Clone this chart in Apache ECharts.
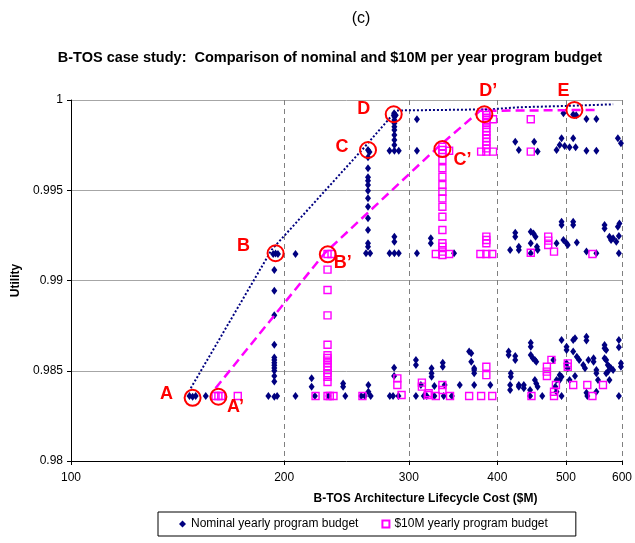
<!DOCTYPE html>
<html><head><meta charset="utf-8">
<script src="https://cdn.jsdelivr.net/npm/echarts@6/dist/echarts.min.js"></script>
<style>html,body{margin:0;padding:0;background:#fff}#c{width:635px;height:543px}</style>
</head><body><div id="c"></div>
<script>
const FONT = '"Liberation Sans", Arial, sans-serif';
const xTicks = [100, 200, 300, 400, 500, 600];

const nominalPoints = [
  [147,0.9836],[148.5,0.98356],[150,0.9836],[155,0.9836],[190,0.9836],[193.7,0.98356],[195.5,0.9836],[207.5,0.9836],[221,0.9836],[231,0.9836],[244,0.9836],[257,0.9836],[260,0.9836],[265,0.9836],[282,0.9836],[285,0.9836],[290,0.9836],[307,0.9836],[315,0.9836],[318,0.9836],[326,0.9836],[336,0.9836],[345,0.9836],[445,0.9836],[463,0.9836],[493,0.9836],[536,0.9836],[594,0.9836],
  [218.7,0.98458],[218.7,0.98412],[242.3,0.9843],[242.3,0.98412],[263,0.98421],[263,0.98384],[286,0.98517],[286,0.98471],[307,0.9856],[307,0.98532],[312,0.98421],[323,0.98514],[323,0.98486],[323,0.98467],[326,0.98415],[335,0.98545],[335,0.98522],[337,0.98421],[354,0.98421],[365,0.98606],[367.5,0.98597],[367.5,0.9855],[371,0.98514],[371,0.98504],[371,0.98486],[371,0.98421],[391,0.98421],
  [415,0.98606],[415,0.98587],[424,0.98582],[424,0.9856],[418,0.98486],[418,0.98467],[417,0.98421],[417,0.98393],[429,0.98421],[429,0.98412],[436,0.98421],[436,0.98403],[445,0.98393],
  [446,0.98655],[446,0.98633],[446,0.98587],[449,0.98569],[452,0.9856],[454,0.9855],[452,0.98449],[454,0.9843],[456,0.98412],
  [480,0.9856],[483,0.98412],[485,0.98384],[490,0.98476],[485,0.98449],
  [493,0.9867],[501,0.98633],[501,0.98615],[512,0.9867],[515,0.9868],[512,0.98606],[518,0.98578],[522,0.9856],[501,0.98541],[503,0.98514],[493,0.98467],[490,0.98449],[515,0.98471],[506,0.98449],[534.5,0.98689],[534.5,0.98667],[529,0.98532],[532,0.98514],[538,0.9856],[547,0.98569],[547,0.9855],[552,0.98504],[552,0.98486],[555,0.98449],[534.5,0.98378],[552,0.98384],
  [567,0.98643],[567,0.98625],[570,0.98615],[567,0.98569],[570,0.9856],[573,0.98532],[576,0.98522],[579,0.98514],[583,0.98504],[573,0.98495],[570,0.98486],[576,0.98449],[594,0.9867],[594,0.9863],[598,0.98541],[598,0.98522],
  [193.7,0.99058],[193.7,0.98943],[193.7,0.98807],[193.7,0.98644],[193.7,0.98574],[193.7,0.9856],[193.7,0.98545],[193.7,0.9853],[193.7,0.98515],[193.7,0.985],[193.7,0.98471],[193.7,0.98441],
  [193,0.99147],[194.5,0.9915],[196,0.99147],[207.5,0.99147],
  [262.7,0.99723],[264,0.99712],[262.7,0.99683],[262.7,0.99622],[262.7,0.99572],[262.7,0.99553],[262.7,0.99529],[262.7,0.99497],[262.7,0.99455],[262.7,0.99409],[262.7,0.99345],[262.7,0.9928],[262.7,0.99206],[262.7,0.99187],[261,0.99151],[264.5,0.99151],
  [286,0.99926],[287.5,0.99915],[286.2,0.99907],[286.2,0.99889],[286.2,0.99871],[286.2,0.99852],[286.2,0.99834],[286.2,0.99806],[286.2,0.99778],[286.2,0.99751],[281.8,0.99719],[286.2,0.99719],[290.3,0.99719],[281.8,0.99151],[286.2,0.99151],[290.3,0.99151],[286.2,0.99243],[286.2,0.99215],
  [308,0.99893],[308,0.99719],[308,0.99151],[322.2,0.99234],[322.2,0.99206],[347.5,0.99151],
  [424,0.99265],[424,0.99243],[417,0.99169],[429,0.99187],[429,0.99169],[446,0.9927],[450,0.99261],[453,0.99243],[446,0.99206],[455,0.99187],[456,0.99169],[446,0.99151],[493,0.99326],[493,0.99307],[512,0.99326],[512,0.99307],[485,0.99206],[496,0.99224],[501,0.99206],[518,0.9921],[503,0.99197],[534.5,0.9916],[552,0.99151],[567,0.99307],[567,0.99288],[576,0.99243],[579,0.99224],[583,0.99234],[589,0.99215],[592,0.99298],[595,0.99316],[594,0.99247],[594,0.99151],
  [424,0.99769],[429,0.99723],[451,0.99769],[456,0.99714],[493,0.99788],[512,0.99788],[485,0.99723],[490,0.99751],[498,0.99745],[506,0.99738],[516,0.99738],[534.5,0.99719],[552,0.99719],[592,0.99788],[598,0.9976],
  [496,0.99926],[512,0.9992],[517,0.99915],[534.5,0.99895],[552,0.99895]
];

const budgetPoints = [
  [160,0.9836],[161.5,0.9836],[163,0.9836],[172,0.9836],[221.5,0.9836],[230.3,0.9836],[232,0.9836],[234.8,0.9836],[258,0.9836],[293,0.98366],[319,0.98366],[320,0.98375],[327.5,0.9836],[343,0.9836],[365,0.9836],[379.5,0.9836],[393.5,0.9836],[447,0.9836],[481,0.9836],[545,0.9836],
  [230.3,0.99147],[233.3,0.99147],[230.3,0.9906],[230.3,0.98947],[230.3,0.98807],[230.3,0.98644],[230.3,0.98586],[230.3,0.98571],[230.3,0.98556],[230.3,0.98541],[230.3,0.98522],[230.3,0.98504],[230.3,0.98486],[230.3,0.98467],[230.3,0.98438],
  [289,0.98458],[289,0.98421],[313,0.98434],[313,0.98412],[334.6,0.98421],[334.6,0.98393],[386,0.98522],[386,0.98476],[470,0.98522],[470,0.98495],[470,0.98471],[477,0.9856],[484,0.98421],[481,0.98384],[503,0.98541],[503,0.98522],[512,0.98421],[536,0.98421],[564,0.98421],
  [334.6,0.99741],[334.6,0.99723],[334.6,0.99705],[334.6,0.99668],[334.6,0.99622],[334.6,0.99575],[334.6,0.99529],[334.6,0.99492],[334.6,0.99455],[334.6,0.99409],[334.6,0.99353],[334.6,0.9928],[334.6,0.99206],[334.6,0.99187],[334.6,0.9916],[334.6,0.99141],[327.5,0.99147],[342,0.99147],[342,0.99719],
  [386,0.9993],[386,0.99917],[386,0.99902],[386,0.99889],[386,0.99874],[386,0.99861],[386,0.99843],[386,0.99824],[386,0.99806],[386,0.99788],[386,0.99769],[386,0.99751],[386,0.99732],[386,0.99714],[379.5,0.99714],[394.5,0.99714],[394.5,0.99893],
  [386,0.99243],[386,0.99224],[386,0.99206],[378.6,0.99147],[386,0.99147],[393.5,0.99147],
  [446,0.99893],[446,0.99714],[446,0.99154],[472,0.99243],[472,0.99221],[472,0.99197],[481,0.9916],[545,0.99147]
];

const nominalFrontier = [[147.6,0.98403],[192,0.9917],[260,0.99741],[288,0.99942],[390,0.99948],[430,0.9996],[500,0.99967],[583,0.99976]];
const budgetFrontier = [[160,0.98403],[228,0.9915],[330,0.9974],[378,0.9994],[552,0.99945]];

const markNames = ['A','A\u2019','B','B\u2019','C','C\u2019','D','D\u2019','E'];
const markCost = [148.5,161.5,194.5,230.5,262.7,334.6,285.6,383.5,514];
const markUtility = [0.9835,0.98356,0.99151,0.99145,0.99723,0.99728,0.99921,0.99921,0.99945];
const markLabelOffsets = [[-26,-4],[17,10],[-32,-7],[15,9],[-26,-3],[20,11],[-30,-5],[4,-23],[-11,-19]];

const chart = echarts.init(document.getElementById('c'), null, {renderer:'canvas'});
const option = {
  animation: false,
  backgroundColor: '#fff',
  textStyle: {fontFamily: FONT},
  title: [
    {text: '(c)', left: 361, top: 11, padding: 0, textAlign: 'center',
     textStyle: {fontSize: 16, fontWeight: 'normal', color: '#000', fontFamily: FONT}},
    {text: 'B-TOS case study:  Comparison of nominal and $10M per year program budget', left: 330, top: 50, padding: 0, textAlign: 'center',
     textStyle: {fontSize: 14.5, fontWeight: 'bold', color: '#000', fontFamily: FONT}}
  ],
  grid: {left: 71, right: 9, top: 100, bottom: 82},
  legend: {
    left: 158, top: 512, itemGap: 23, itemWidth: 7, itemHeight: 7,
    padding: [6, 28, 6, 21], borderColor: '#000', borderWidth: 1,
    textStyle: {fontSize: 12, color: '#000', fontFamily: FONT},
    data: [{name: 'Nominal yearly program budget', icon: 'diamond'}, {name: '$10M yearly program budget', icon: 'rect'}]
  },
  xAxis: {
    type: 'log', logBase: 10, min: 100, max: 600,
    name: 'B-TOS Architecture Lifecycle Cost ($M)', nameLocation: 'middle', nameGap: 32,
    nameTextStyle: {fontSize: 12, fontWeight: 'bold', color: '#000', fontFamily: FONT, padding: [0, 0, 0, 158]},
    axisLine: {lineStyle: {color: '#000', width: 1}},
    axisTick: {show: true, customValues: xTicks, length: 4, lineStyle: {color: '#000'}},
    axisLabel: {customValues: xTicks, fontSize: 12, color: '#000', margin: 11, fontFamily: FONT},
    splitLine: {show: true, lineStyle: {color: '#808080', width: 1, type: [5, 4]}},
    minorTick: {show: false}, minorSplitLine: {show: false}
  },
  yAxis: {
    type: 'value', min: 0.98, max: 1, interval: 0.005,
    name: 'Utility', nameLocation: 'middle', nameGap: 40,
    nameTextStyle: {fontSize: 12, fontWeight: 'bold', color: '#000', fontFamily: FONT},
    axisLine: {show: true, lineStyle: {color: '#000', width: 1}},
    axisTick: {show: true, length: 4, lineStyle: {color: '#000'}},
    axisLabel: {fontSize: 12, color: '#000', margin: 8, fontFamily: FONT},
    splitLine: {show: true, lineStyle: {color: '#a6a6a6', width: 1}}
  },
  series: [
    {name: 'Nominal yearly program budget', type: 'scatter', data: nominalPoints,
     symbol: 'diamond', symbolSize: [6, 8], itemStyle: {color: '#000080', opacity: 1}, z: 2, silent: true},
    {name: '$10M yearly program budget', type: 'scatter', data: budgetPoints,
     symbol: 'rect', symbolSize: 7, itemStyle: {color: 'rgba(0,0,0,0)', borderColor: '#ff00ff', borderWidth: 1.4, opacity: 1}, z: 3, silent: true},
    {name: 'nominal frontier', type: 'line', data: nominalFrontier, showSymbol: false, symbol: 'none',
     lineStyle: {color: '#000080', width: 2, type: [2, 2]}, z: 4, silent: true},
    {name: 'budget frontier', type: 'line', data: budgetFrontier, showSymbol: false, symbol: 'none',
     lineStyle: {color: '#ff00ff', width: 2.5, type: [9, 5]}, z: 4, silent: true},
    {name: 'design points', type: 'scatter', z: 5, silent: true,
     symbol: 'circle', symbolSize: 16,
     itemStyle: {color: 'rgba(0,0,0,0)', borderColor: '#ff0000', borderWidth: 2, opacity: 1},
     label: {show: true, position: 'inside', color: '#ff0000', fontSize: 18, fontWeight: 'bold', fontFamily: FONT,
             formatter: p => p.name},
     data: markNames.map((n, i) => ({name: n, value: [markCost[i], markUtility[i]], label: {offset: markLabelOffsets[i]}}))}
  ]
};
chart.setOption(option);
</script></body></html>
